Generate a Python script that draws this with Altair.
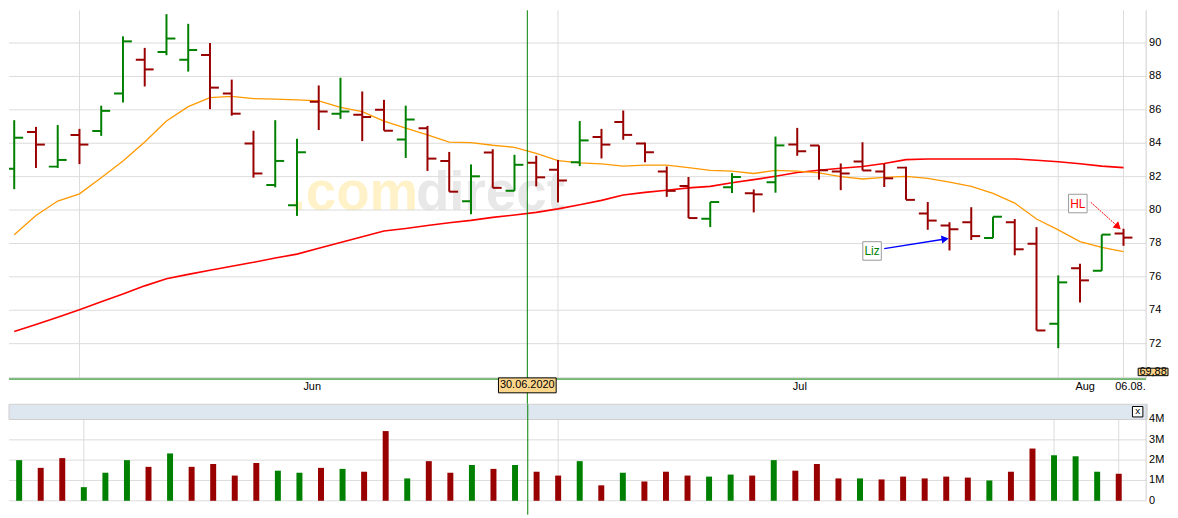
import altair as alt
import pandas as pd

# ---------------- data ----------------
bar_index = list(range(52))
price_open = [82.48, 84.67, 82.60, 84.50, 84.73, 86.98, 89.00, 89.46, 89.00, 89.29,
              86.98, 83.98, 81.50, 80.29, 86.48, 85.77, 85.71, 86.00, 84.23, 84.90,
              82.94, 80.52, 83.44, 81.15, 82.83, 82.42, 82.86, 84.38, 85.27, 83.98,
              82.31, 81.44, 79.48, 81.36, 81.00, 81.67, 83.92, 83.87, 82.31, 82.90,
              82.31, 82.54, 79.79, 79.08, 79.27, 78.33, 79.27, 77.98, 73.19, 76.52,
              76.36, 78.59]
price_high = [85.38, 84.98, 85.09, 84.86, 86.25, 90.40, 89.71, 91.73, 91.15, 90.00,
              87.81, 84.75, 85.38, 84.27, 87.46, 87.92, 87.10, 86.60, 86.25, 85.04,
              83.48, 82.73, 83.64, 83.31, 83.25, 83.00, 85.33, 84.86, 85.96, 84.04,
              82.61, 81.98, 80.48, 82.21, 81.23, 84.40, 84.92, 83.87, 82.79, 84.06,
              82.77, 82.60, 80.48, 79.27, 80.17, 79.60, 79.46, 78.98, 76.09, 76.79,
              78.53, 78.88]
price_low = [81.25, 82.52, 82.52, 82.75, 84.44, 86.44, 87.40, 89.27, 88.29, 86.04,
             85.65, 81.94, 81.36, 79.65, 84.79, 85.46, 84.13, 84.75, 83.12, 82.34,
             81.10, 79.75, 81.33, 81.15, 81.42, 80.46, 82.63, 83.09, 84.21, 82.86,
             80.79, 79.52, 78.98, 81.02, 79.86, 81.04, 83.25, 81.82, 81.19, 82.37,
             81.38, 80.61, 78.82, 77.58, 78.21, 78.33, 77.29, 72.79, 71.73, 74.46,
             76.36, 77.86]
price_close = [84.33, 83.92, 83.00, 83.92, 85.94, 90.10, 88.42, 90.27, 89.58, 87.33,
               85.77, 82.19, 82.94, 83.46, 85.90, 85.90, 85.57, 84.75, 85.42, 83.08,
               81.10, 82.02, 81.33, 82.71, 81.96, 81.77, 84.17, 83.92, 84.50, 83.46,
               81.15, 79.52, 80.48, 81.98, 80.94, 83.87, 83.52, 82.38, 82.19, 82.37,
               81.90, 80.61, 79.37, 78.85, 78.44, 79.60, 77.65, 72.79, 75.67, 75.79,
               78.53, 78.35]
volume_millions = [2.00, 1.62, 2.10, 0.67, 1.38, 2.00, 1.67, 2.33, 1.67, 1.81,
                   1.24, 1.86, 1.48, 1.38, 1.62, 1.57, 1.43, 3.43, 1.10, 1.95,
                   1.38, 1.76, 1.57, 1.76, 1.43, 1.24, 1.95, 0.76, 1.38, 0.95,
                   1.43, 1.24, 1.19, 1.29, 1.24, 2.00, 1.48, 1.81, 1.10, 1.10,
                   1.05, 1.19, 1.10, 1.19, 1.14, 1.00, 1.43, 2.57, 2.24, 2.19,
                   1.43, 1.33]
volume_direction = ["up", "down", "down", "up", "up", "up", "down", "up", "down", "down",
                    "down", "down", "up", "up", "down", "up", "down", "down", "up", "down",
                    "down", "up", "down", "up", "down", "down", "up", "down", "up", "down",
                    "down", "down", "up", "up", "down", "up", "down", "down", "down", "up",
                    "down", "down", "down", "down", "down", "up", "down", "down", "up", "up",
                    "up", "down"]
ma_fast = [78.52, 79.67, 80.54, 80.97, 81.94, 82.94, 84.07, 85.33, 86.19, 86.73,
           86.81, 86.67, 86.64, 86.60, 86.54, 86.15, 85.89, 85.33, 84.90, 84.50,
           84.07, 84.04, 83.88, 83.75, 83.40, 82.96, 82.83, 82.77, 82.63, 82.69,
           82.69, 82.54, 82.38, 82.33, 82.19, 82.38, 82.33, 82.23, 82.00, 81.86,
           81.96, 82.02, 81.90, 81.67, 81.42, 81.00, 80.42, 79.46, 78.81, 78.11,
           77.77, 77.51]
ma_slow = [72.73, 73.15, 73.58, 74.03, 74.51, 74.97, 75.46, 75.89, 76.15, 76.40,
           76.64, 76.87, 77.13, 77.36, 77.71, 78.06, 78.40, 78.75, 78.90, 79.07,
           79.24, 79.38, 79.56, 79.70, 79.86, 80.07, 80.32, 80.58, 80.90, 81.06,
           81.19, 81.33, 81.42, 81.63, 81.82, 82.02, 82.25, 82.38, 82.50, 82.61,
           82.79, 83.02, 83.06, 83.06, 83.06, 83.06, 83.06, 82.98, 82.89, 82.77,
           82.63, 82.54]
month_labels = ["Jun", "Jul", "Aug", "06.08."]
month_label_index = [13.70, 36.12, 49.24, 51.32]
grid_index = [3, 25, 48, 51]
price_ticks = [72, 74, 76, 78, 80, 82, 84, 86, 88, 90]
price_tick_labels = ["72", "74", "76", "78", "80", "82", "84", "86", "88", "90"]
volume_ticks = [0, 1_000_000, 2_000_000, 3_000_000, 4_000_000]
volume_tick_labels = ["0", "1M", "2M", "3M", "4M"]
header_band_volume = [4_000_000, 4_750_000]
cross_index = [23.59]
cross_price = [69.88]
cross_date_text = ["30.06.2020"]
cross_price_text = ["69,88"]
note_names = ["Liz", "HL"]
note_colors = ["#008000", "#ff0000"]
note_index = [39.44, 48.90]
note_price = [77.55, 80.39]
arrow_start_index = [40.0, 49.5]
arrow_start_price = [77.69, 80.46]
arrow_end_index = [42.8, 50.75]
arrow_end_price = [78.27, 79.0]
arrow_colors = ["#0000ff", "#ff0000"]
arrow_angles = [81, 132]
watermark_parts = [".com", "direct"]
close_symbol = ["x"]

# ---------------- layout / style ----------------
W = 1143
H_TOP = 370
H_VOL = 97
GAP = 26
FONT = "Liberation Sans"
GREEN = "#008000"
DARKRED = "#990000"
GRID = "#dcdcdc"
BORDER = "#cfcfcf"

xs = alt.Scale(domain=[-0.24, 52.04], nice=False, zero=False)
ys = alt.Scale(domain=[69.92, 91.96], nice=False, zero=False)
vs = alt.Scale(domain=[0, 4_750_000], nice=False, zero=True)
dir_scale = alt.Scale(domain=["up", "down"], range=[GREEN, DARKRED])

ohlc = pd.DataFrame({"i": bar_index, "o": price_open, "h": price_high,
                     "l": price_low, "c": price_close})
ohlc["dir"] = ["up" if c >= o else "down" for o, c in zip(price_open, price_close)]
ma = pd.DataFrame({"i": bar_index, "fast": ma_fast, "slow": ma_slow})
vol = pd.DataFrame({"i": bar_index, "v": [m * 1_000_000 for m in volume_millions],
                    "dir": volume_direction})
grid_df = pd.DataFrame({"g": grid_index})
price_tick_df = pd.DataFrame({"p": price_ticks, "t": price_tick_labels})
vol_tick_df = pd.DataFrame({"p": volume_ticks, "t": volume_tick_labels})
cross = pd.DataFrame({"ci": cross_index, "cp": cross_price,
                      "dt": cross_date_text, "pt": cross_price_text})
notes = pd.DataFrame({"name": note_names, "col": note_colors, "ni": note_index,
                      "np": note_price, "x0": arrow_start_index, "y0": arrow_start_price,
                      "x1": arrow_end_index, "y1": arrow_end_price,
                      "acol": arrow_colors, "ang": arrow_angles})
labels_df = pd.DataFrame({"lab": month_labels, "pos": month_label_index})
one = pd.DataFrame({"k": [0]})

X = lambda f: alt.X(f, scale=xs, axis=None)
Y = lambda f: alt.Y(f, scale=ys, axis=None)
V = lambda f: alt.Y(f, scale=vs, axis=None)

# ---------------- price panel ----------------
wm1 = alt.Chart(pd.DataFrame({"t": [watermark_parts[0]]})).mark_text(
    align="left", baseline="alphabetic", font=FONT, fontSize=55, fontWeight="bold",
    color="#fff2c8").encode(text="t:N", x=alt.value(283), y=alt.value(201))
wm2 = alt.Chart(pd.DataFrame({"t": [watermark_parts[1]]})).mark_text(
    align="left", baseline="alphabetic", font=FONT, fontSize=55, fontWeight="bold",
    color="#e8e8e8").encode(text="t:N", x=alt.value(409), y=alt.value(201))

xgrid = alt.Chart(grid_df).mark_rule(color=GRID, strokeWidth=1).encode(x=X("g:Q"))
ygrid = alt.Chart(price_tick_df).mark_rule(color=GRID, strokeWidth=1).encode(y=Y("p:Q"))
ylabels = alt.Chart(price_tick_df).mark_text(
    align="left", baseline="middle", font=FONT, fontSize=11, color="#000000").encode(
    y=Y("p:Q"), x=alt.value(W + 3), text="t:N")
right_border = alt.Chart(one).mark_rule(color=BORDER, strokeWidth=1).encode(
    x=alt.value(W), y=alt.value(0), y2=alt.value(H_TOP))
bottom_border = alt.Chart(one).mark_rule(color=BORDER, strokeWidth=1).encode(
    y=alt.value(H_TOP - 0.5), x=alt.value(0), x2=alt.value(W))

slow_line = alt.Chart(ma).mark_line(color="#ff0000", strokeWidth=1.6).encode(
    x=X("i:Q"), y=Y("slow:Q"))
fast_line = alt.Chart(ma).mark_line(color="#ff9900", strokeWidth=1.3).encode(
    x=X("i:Q"), y=Y("fast:Q"))

color_enc = alt.Color("dir:N", scale=dir_scale, legend=None)
vert = alt.Chart(ohlc).mark_rule(strokeWidth=2).encode(
    x=X("i:Q"), y=Y("l:Q"), y2="h:Q", color=color_enc)
open_tick = alt.Chart(ohlc).transform_calculate(xl="datum.i - 0.41").mark_rule(
    strokeWidth=2, clip=True).encode(x=X("xl:Q"), x2="i:Q", y=Y("o:Q"), color=color_enc)
close_tick = alt.Chart(ohlc).transform_calculate(xr="datum.i + 0.41").mark_rule(
    strokeWidth=2).encode(x=X("i:Q"), x2="xr:Q", y=Y("c:Q"), color=color_enc)

cross_v = alt.Chart(cross).mark_rule(color=GREEN, strokeWidth=1).encode(
    x=X("ci:Q"), y=alt.value(0), y2=alt.value(H_TOP + GAP))
cross_h = alt.Chart(cross).mark_rule(color=GREEN, strokeWidth=1).encode(
    y=Y("cp:Q"), x=alt.value(0), x2=alt.value(W))

liz_arrow = alt.Chart(notes).transform_filter("datum.name == 'Liz'").mark_rule(
    color="#0000ff", strokeWidth=1.5).encode(x=X("x0:Q"), y=Y("y0:Q"), x2="x1:Q", y2="y1:Q")
hl_arrow = alt.Chart(notes).transform_filter("datum.name == 'HL'").mark_rule(
    color="#ff0000", strokeWidth=1, strokeDash=[2, 1]).encode(
    x=X("x0:Q"), y=Y("y0:Q"), x2="x1:Q", y2="y1:Q")
heads = alt.Chart(notes).mark_point(shape="triangle-up", size=70, filled=True,
                                    opacity=1).encode(
    x=X("x1:Q"), y=Y("y1:Q"), color=alt.Color("acol:N", scale=None),
    angle=alt.Angle("ang:Q", scale=None))
note_box = alt.Chart(notes).mark_point(shape="square", size=346, filled=True,
                                       fill="#ffffff", stroke="#999999", strokeWidth=1,
                                       opacity=1).encode(x=X("ni:Q"), y=Y("np:Q"))
note_text = alt.Chart(notes).mark_text(font=FONT, fontSize=12).encode(
    x=X("ni:Q"), y=Y("np:Q"), text="name:N", color=alt.Color("col:N", scale=None))

month_text = alt.Chart(labels_df).mark_text(font=FONT, fontSize=11, color="#000000",
                                            baseline="middle").encode(
    x=X("pos:Q"), y=alt.value(H_TOP + 9), text="lab:N")

date_box = alt.Chart(cross).mark_point(
    shape="M-1,-0.2586L1,-0.2586L1,0.2586L-1,0.2586Z", size=3364, filled=True,
    fill="#fdd68c", stroke="#000000", strokeWidth=1, opacity=1).encode(
    x=X("ci:Q"), y=alt.value(H_TOP + 7))
date_text = alt.Chart(cross).mark_text(font=FONT, fontSize=11, color="#000000").encode(
    x=X("ci:Q"), y=alt.value(H_TOP + 7), text="dt:N")
price_box = alt.Chart(cross).mark_point(
    shape="M-1,-0.25L1,-0.25L1,0.25L-1,0.25Z", size=900, filled=True,
    fill="#fdd68c", stroke="#000000", strokeWidth=1, opacity=1).encode(
    x=alt.value(1150), y=alt.value(H_TOP - 6.5))
price_text = alt.Chart(cross).mark_text(font=FONT, fontSize=11, color="#000000").encode(
    x=alt.value(1150), y=alt.value(H_TOP - 6.5), text="pt:N")

top = alt.layer(wm1, wm2, xgrid, ygrid, right_border, bottom_border, ylabels,
                slow_line, fast_line, vert, open_tick, close_tick,
                cross_v, cross_h, liz_arrow, hl_arrow, heads, note_box, note_text,
                month_text, date_box, date_text, price_box, price_text).properties(
    width=W, height=H_TOP)

# ---------------- volume panel ----------------
vgrid = alt.Chart(grid_df).mark_rule(color=GRID, strokeWidth=1).encode(x=X("g:Q"))
vygrid = alt.Chart(vol_tick_df).mark_rule(color=GRID, strokeWidth=1).encode(y=V("p:Q"))
vlabels = alt.Chart(vol_tick_df).mark_text(
    align="left", baseline="middle", font=FONT, fontSize=11, color="#000000").encode(
    y=V("p:Q"), x=alt.value(W + 3), text="t:N")
band = alt.Chart(pd.DataFrame({"b0": [header_band_volume[0]],
                               "b1": [header_band_volume[1]]})).mark_rect(
    fill="#dee6ef", stroke=BORDER, strokeWidth=1).encode(
    x=alt.value(0), x2=alt.value(W + 1), y=V("b0:Q"), y2="b1:Q")
vright = alt.Chart(one).mark_rule(color=BORDER, strokeWidth=1).encode(
    x=alt.value(W), y=alt.value(0), y2=alt.value(H_VOL))
bars = alt.Chart(vol).mark_bar(width=6).encode(
    x=X("i:Q"), y=V("v:Q"),
    color=alt.Color("dir:N", scale=dir_scale, legend=None))
close_box = alt.Chart(pd.DataFrame({"s": close_symbol})).mark_point(
    shape="square", size=110, filled=True, fill="#ffffff", stroke="#000000",
    strokeWidth=1, opacity=1).encode(x=alt.value(1134.5), y=alt.value(7.5))
close_text = alt.Chart(pd.DataFrame({"s": close_symbol})).mark_text(
    font=FONT, fontSize=10, color="#000000").encode(
    x=alt.value(1134.5), y=alt.value(7), text="s:N")
vcross = alt.Chart(cross).mark_rule(color=GREEN, strokeWidth=1).encode(
    x=X("ci:Q"), y=alt.value(0), y2=alt.value(H_VOL + 14))

volume_chart = alt.layer(vgrid, vygrid, band, vright, vlabels, bars, close_box,
                         close_text, vcross).properties(width=W, height=H_VOL)

chart = alt.vconcat(top, volume_chart, spacing=GAP, bounds="flush").properties(
    padding=0).configure(font=FONT).configure_view(strokeWidth=0)

chart.save("out.html", embed_options={"renderer": "svg", "actions": False})
